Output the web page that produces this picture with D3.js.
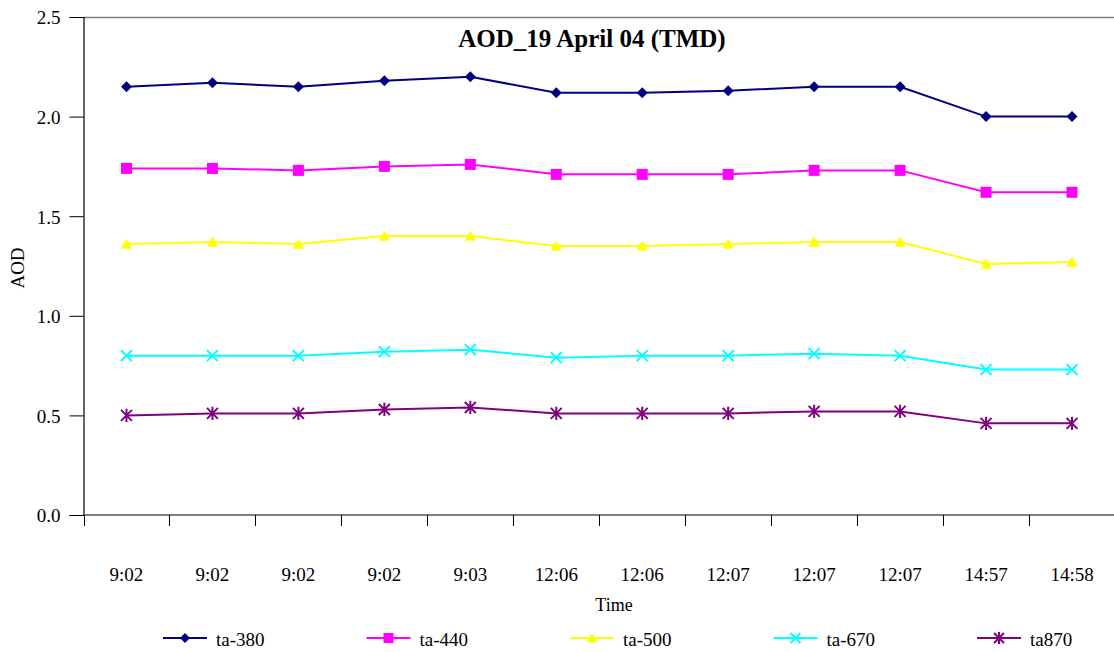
<!DOCTYPE html>
<html>
<head>
<meta charset="utf-8">
<script src="https://cdn.jsdelivr.net/npm/d3@7"></script>
<style>
  html, body { margin: 0; padding: 0; background: #fff; }
  svg { display: block; }
</style>
</head>
<body>
<svg id="chart" width="1114" height="652"></svg>
<script>
// Observation times (category axis)
const times = ["9:02", "9:02", "9:02", "9:02", "9:03", "12:06", "12:06", "12:07", "12:07", "12:07", "14:57", "14:58"];

// Aerosol optical depth per wavelength channel
const ta380 = [2.15, 2.17, 2.15, 2.18, 2.20, 2.12, 2.12, 2.13, 2.15, 2.15, 2.00, 2.00];
const ta440 = [1.74, 1.74, 1.73, 1.75, 1.76, 1.71, 1.71, 1.71, 1.73, 1.73, 1.62, 1.62];
const ta500 = [1.36, 1.37, 1.36, 1.40, 1.40, 1.35, 1.35, 1.36, 1.37, 1.37, 1.26, 1.27];
const ta670 = [0.80, 0.80, 0.80, 0.82, 0.83, 0.79, 0.80, 0.80, 0.81, 0.80, 0.73, 0.73];
const ta870 = [0.50, 0.51, 0.51, 0.53, 0.54, 0.51, 0.51, 0.51, 0.52, 0.52, 0.46, 0.46];

const seriesNames = ["ta-380", "ta-440", "ta-500", "ta-670", "ta870"];
const yTicks = [0.0, 0.5, 1.0, 1.5, 2.0, 2.5];

const series = [
  { name: seriesNames[0], values: ta380, color: "#000080", symbol: "diamond" },
  { name: seriesNames[1], values: ta440, color: "#FF00FF", symbol: "square" },
  { name: seriesNames[2], values: ta500, color: "#FFFF00", symbol: "triangle" },
  { name: seriesNames[3], values: ta670, color: "#00FFFF", symbol: "cross" },
  { name: seriesNames[4], values: ta870, color: "#800080", symbol: "star" }
];

const FONT = "'Liberation Serif', 'DejaVu Serif', serif";

const svg = d3.select("#chart").attr("font-family", FONT);
const plot = { left: 83.5, right: 1115, top: 17, bottom: 515 };

const x = d3.scaleBand().domain(d3.range(times.length)).range([plot.left, plot.right]);
const y = d3.scaleLinear().domain([0, 2.5]).range([plot.bottom, plot.top]);

// Top frame line of the plot area
svg.append("line")
  .attr("x1", plot.left).attr("x2", 1114)
  .attr("y1", plot.top + 0.5).attr("y2", plot.top + 0.5)
  .attr("stroke", "#808080").attr("stroke-width", 1.5);

// Y axis
const yAxis = svg.append("g")
  .attr("transform", `translate(${plot.left},0)`)
  .call(d3.axisLeft(y).tickValues(yTicks).tickFormat(d3.format(".1f")).tickSize(14).tickPadding(9));
yAxis.attr("font-family", FONT).attr("font-size", 19);
yAxis.select(".domain").attr("stroke", "#000").attr("stroke-width", 1.2);
yAxis.selectAll(".tick line").attr("stroke", "#000");
yAxis.selectAll("text").attr("fill", "#000").attr("dy", "0.36em");

// X axis: ticks sit at the category boundaries
const xAxisG = svg.append("g").attr("transform", `translate(0,${plot.bottom})`);
xAxisG.append("line")
  .attr("x1", plot.left).attr("x2", 1114)
  .attr("stroke", "#000").attr("stroke-width", 1.2);
xAxisG.selectAll(".bnd")
  .data(d3.range(times.length))
  .join("line")
  .attr("x1", i => Math.round(x(i)) + 0.5).attr("x2", i => Math.round(x(i)) + 0.5)
  .attr("y1", 0).attr("y2", 11)
  .attr("stroke", "#000");
xAxisG.selectAll(".lbl")
  .data(times)
  .join("text")
  .attr("x", (d, i) => x(i) + x.bandwidth() / 2)
  .attr("y", 66)
  .attr("text-anchor", "middle")
  .attr("font-size", 19)
  .text(d => d);

// Axis titles
svg.append("text")
  .attr("x", 614).attr("y", 611)
  .attr("text-anchor", "middle").attr("font-size", 18)
  .text("Time");
svg.append("text")
  .attr("transform", "translate(24,268) rotate(-90)")
  .attr("text-anchor", "middle").attr("font-size", 19)
  .text("AOD");

// Chart title
svg.append("text")
  .attr("x", 592).attr("y", 47)
  .attr("text-anchor", "middle").attr("font-size", 25).attr("font-weight", "bold")
  .text("AOD_19 April 04 (TMD)");

// Marker drawing
function drawMarker(g, symbol, color, s) {
  if (symbol === "diamond") {
    g.append("path").attr("d", `M0,${-s}L${s},0L0,${s}L${-s},0Z`).attr("fill", color);
  } else if (symbol === "square") {
    g.append("rect").attr("x", -s).attr("y", -s).attr("width", 2 * s).attr("height", 2 * s).attr("fill", color);
  } else if (symbol === "triangle") {
    g.append("path").attr("d", `M0,${-s}L${s},${s * 0.85}L${-s},${s * 0.85}Z`).attr("fill", color);
  } else if (symbol === "cross") {
    g.append("path").attr("d", `M${-s},${-s}L${s},${s}M${-s},${s}L${s},${-s}`)
      .attr("stroke", color).attr("stroke-width", 2).attr("fill", "none");
  } else if (symbol === "star") {
    g.append("path").attr("d", `M${-s},${-s}L${s},${s}M${-s},${s}L${s},${-s}M0,${-s * 1.2}L0,${s * 1.2}`)
      .attr("stroke", color).attr("stroke-width", 2).attr("fill", "none");
  }
}

const line = d3.line()
  .x((d, i) => x(i) + x.bandwidth() / 2)
  .y(d => y(d));

series.forEach(s => {
  svg.append("path")
    .datum(s.values)
    .attr("d", line)
    .attr("fill", "none")
    .attr("stroke", s.color)
    .attr("stroke-width", 2);
  s.values.forEach((v, i) => {
    const g = svg.append("g").attr("transform", `translate(${x(i) + x.bandwidth() / 2},${y(v)})`);
    drawMarker(g, s.symbol, s.color, 5.5);
  });
});

// Legend
const legendX = d3.scaleLinear().domain([0, 4]).range([163, 977]);
series.forEach((s, i) => {
  const lx = legendX(i);
  const g = svg.append("g").attr("transform", `translate(${lx},638)`);
  g.append("line").attr("x1", 0).attr("x2", 44).attr("y1", 0).attr("y2", 0)
    .attr("stroke", s.color).attr("stroke-width", 2);
  const m = g.append("g").attr("transform", "translate(22,0)");
  drawMarker(m, s.symbol, s.color, 5);
  g.append("text").attr("x", 53).attr("y", 8).attr("font-size", 19).text(s.name);
});
</script>
</body>
</html>
